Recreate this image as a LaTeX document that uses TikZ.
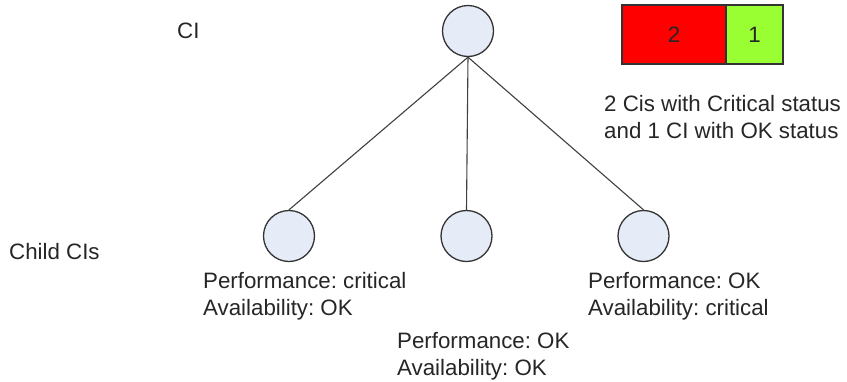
\documentclass[tikz,border=0pt]{standalone}
\usepackage{fontspec}
\setmainfont{Liberation Sans}
\usetikzlibrary{positioning}
\definecolor{cifill}{RGB}{230,236,247}
\definecolor{cidraw}{RGB}{51,51,51}
\definecolor{okgreen}{RGB}{153,255,51}
\frenchspacing
\begin{document}
\begin{tikzpicture}[x=1pt, y=-1pt]
    \tikzset{
        cinode/.style = {draw=cidraw, fill=cifill, circle, line width=1.3pt, minimum size=51pt, inner sep=0pt},
        txt/.style = {inner sep=0pt, anchor=base west, align=left, text=black!85, font=\fontsize{22.3}{27}\selectfont},
        barcell/.style = {draw=black!80, line width=1.3pt, minimum height=59pt, inner sep=0pt, text=black!85, font=\fontsize{22.3}{27}\selectfont},
        link/.style = {draw=black!75, line width=1.1pt}
    }
    \useasboundingbox (0,0) rectangle (847,381);

    % parent and children
    \node [cinode] (ci) at (468,31) {};
    \node [cinode] (childA) at (289,236) {};
    \node [cinode] (childB) at (466.5,236) {};
    \node [cinode] (childC) at (643.5,236) {};

    \draw [link] (ci.south) -- (childA.north);
    \draw [link] (ci.south) -- (childB.north);
    \draw [link] (ci.south) -- (childC.north);

    % status bar
    \node [barcell, fill=red, minimum width=104pt] (critbar) at (674,34.5) {2};
    \node [barcell, fill=okgreen, minimum width=57pt] (okbar) at (754.5,34.5) {1};

    % texts (base = last line)
    \node [txt] (cilabel) at (177,38) {CI};
    \node [txt] (childlabel) at (9,259) {Child CIs};
    \node [txt] (barnote) at (604,138) {2 Cis with Critical status\\and 1 CI with OK status};
    \node [txt] (statA) at (203,315) {Performance: critical\\Availability: OK};
    \node [txt] (statB) at (397,375) {Performance: OK\\Availability: OK};
    \node [txt] (statC) at (588,315) {Performance: OK\\Availability: critical};
\end{tikzpicture}
\end{document}
